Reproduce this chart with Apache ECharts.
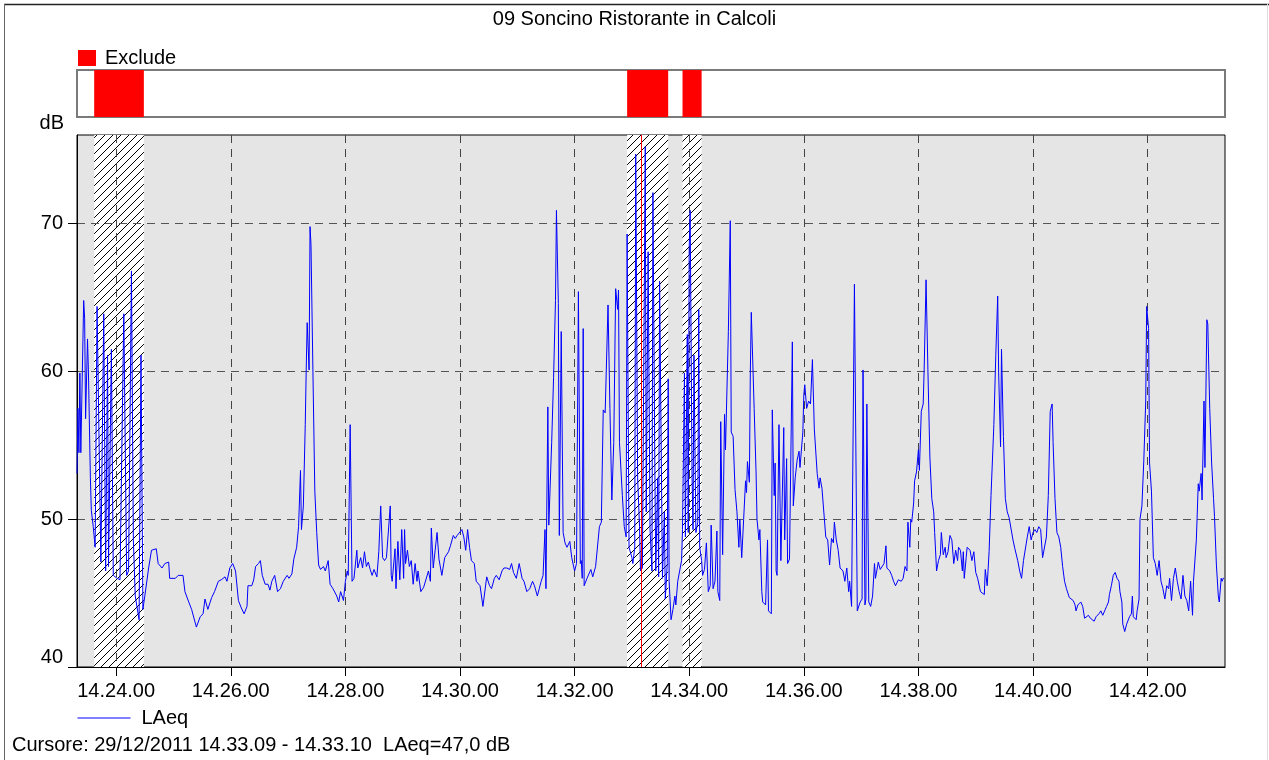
<!DOCTYPE html>
<html><head><meta charset="utf-8">
<script src="https://cdn.jsdelivr.net/npm/echarts@6/dist/echarts.min.js"></script>
<style>html,body{margin:0;padding:0;background:#fff}#c{width:1269px;height:760px}</style>
</head><body><div id="c"></div>
<script>
const TITLE = '09 Soncino Ristorante in Calcoli';
const START_SEC = 14 * 3600 + 23 * 60 + 19;   // 14.23.19 = offset 0
const END_OFFSET = 1202;                        // seconds shown
const xTickOffsets = [41, 161, 281, 401, 521, 641, 761, 881, 1001, 1121]; // 14.24.00 ... 14.42.00
const yTicks = [40, 50, 60, 70];
const excludeRanges = [[18, 70], [576, 619], [634, 654]];
const cursorOffset = 590.5;
const cursorText = 'Cursore: 29/12/2011 14.33.09 - 14.33.10  LAeq=47,0 dB';
const FONT = '"Liberation Sans", Arial, Helvetica, sans-serif';

// [seconds after 14.23.19, LAeq dB]
const samples = [
[0,53.1],[1,57.5],[2,54.5],[3,59.9],[4,54.5],[7,64.8],[8,63.6],[9,56.8],[11,62.2],[12,59.9],[14,52.8],[15,50.6],[17,49.5],[19,48.1],
[21,64.4],[25,47.1],[28,63.9],[30,46.5],[32,61.1],[33,46.8],[35,56.4],[36,61.5],[38,46.2],[42,46.0],[45,45.9],[47,45.8],[49,63.9],
[52,46.2],[54,46.5],[57,66.8],[59,48.6],[61,44.8],[65,43.2],[67,61.1],[69,43.9],[71,44.8],[75,46.7],[78,47.9],[83,48.0],[85,47.0],
[89,46.7],[92,47.0],[96,47.1],[97,46.0],[103,46.0],[106,46.2],[111,46.2],[113,45.1],[117,44.4],[120,43.9],[125,42.7],[129,43.4],
[132,43.6],[134,44.6],[137,43.9],[141,44.7],[144,45.1],[148,45.8],[151,45.9],[155,46.1],[157,45.8],[160,46.7],[163,47.0],[166,46.5],
[169,44.5],[172,44.0],[175,43.6],[178,44.1],[179,45.5],[183,45.5],[185,45.9],[187,46.8],[190,47.0],[192,47.2],[194,46.2],[197,45.6],
[200,45.6],[202,45.2],[204,45.8],[207,46.2],[210,45.1],[213,45.3],[216,45.8],[220,46.2],[222,46.0],[225,46.3],[227,47.3],[230,48.1],
[232,49.5],[234,53.3],[235,49.3],[237,50.9],[239,56.4],[240,60.1],[241,63.3],[243,60.1],[244,69.8],[245,68.6],[247,60.1],[249,51.9],
[251,49.1],[253,46.9],[255,46.6],[258,46.8],[260,46.5],[263,47.2],[265,45.6],[268,45.3],[272,44.8],[274,44.4],[276,45.1],[279,44.5],
[281,45.8],[283,46.5],[284,46.2],[286,56.4],[288,45.8],[290,46.0],[293,47.9],[294,46.7],[297,47.4],[299,46.7],[301,47.8],[303,46.8],
[305,47.1],[307,46.6],[309,46.2],[311,46.6],[314,46.1],[316,47.8],[318,50.9],[320,47.4],[322,47.2],[324,47.4],[326,47.4],[328,50.9],
[329,46.2],[330,45.8],[333,48.0],[334,45.3],[336,48.5],[338,45.9],[340,49.3],[342,46.0],[343,49.3],[344,47.0],[346,47.9],[348,46.8],
[350,47.2],[352,45.6],[354,47.0],[356,45.8],[357,46.5],[360,45.1],[363,45.4],[365,45.5],[368,46.5],[370,45.8],[371,49.4],[373,46.7],
[375,47.9],[377,49.1],[379,47.3],[382,46.2],[385,47.4],[389,47.8],[391,48.2],[394,48.9],[396,48.7],[398,48.9],[400,48.8],[403,49.3],
[405,48.8],[407,47.9],[409,49.3],[411,48.1],[413,47.2],[416,47.0],[418,45.8],[422,45.5],[425,44.1],[426,44.0],[429,46.1],[432,45.5],
[434,45.3],[437,46.0],[439,46.2],[442,45.9],[445,46.5],[447,46.7],[450,46.7],[453,46.6],[455,47.0],[457,46.4],[460,46.0],[463,47.0],
[466,46.0],[468,45.8],[471,45.1],[474,45.3],[477,45.8],[479,45.5],[482,44.8],[484,45.3],[486,45.8],[488,46.2],[490,49.3],[491,45.3],
[493,57.6],[494,49.6],[497,55.2],[499,59.6],[501,64.8],[502,70.9],[504,64.6],[505,48.9],[507,62.7],[509,49.1],[511,48.4],[513,48.1],
[516,48.5],[518,47.4],[521,46.5],[523,47.0],[525,65.4],[527,47.0],[528,47.2],[529,46.0],[530,62.9],[531,45.5],[534,46.0],[536,46.1],
[538,46.6],[540,46.1],[543,46.8],[545,46.7],[547,49.5],[549,49.8],[551,57.4],[553,57.2],[556,64.5],[558,57.5],[560,51.3],[562,55.2],
[564,65.6],[566,64.2],[567,65.5],[568,55.2],[571,51.6],[573,49.5],[575,48.8],[576,69.3],[578,48.1],[581,47.4],[582,47.0],[584,48.1],
[585,74.7],[587,52.8],[589,49.5],[590,46.5],[592,46.7],[595,75.2],[596,50.5],[598,68.1],[600,49.3],[602,46.5],[603,72.1],[605,53.8],
[606,46.5],[608,52.8],[609,46.1],[610,66.1],[613,46.0],[615,50.5],[616,44.6],[618,47.0],[619,59.5],[620,45.8],[622,43.2],[624,43.9],
[626,44.8],[627,44.2],[629,45.8],[631,46.5],[633,47.2],[634,49.3],[636,59.9],[637,48.8],[639,62.5],[640,49.1],[641,68.4],[642,70.9],
[644,52.8],[645,49.3],[646,61.1],[648,49.1],[650,49.8],[651,64.2],[652,48.1],[654,47.2],[655,46.2],[657,46.6],[659,48.4],[661,45.1],
[663,45.5],[664,49.6],[666,45.3],[668,45.8],[670,49.2],[671,45.1],[673,44.5],[674,56.6],[676,47.6],[678,57.1],[679,54.7],[682,62.7],
[684,70.2],[685,55.9],[687,55.6],[689,52.0],[690,51.9],[691,50.5],[693,48.1],[694,50.0],[696,47.4],[698,50.0],[700,52.6],[701,51.8],
[702,53.9],[704,52.5],[705,59.9],[706,64.0],[709,57.5],[711,53.2],[712,50.0],[714,48.6],[715,49.3],[717,45.1],[718,44.4],[721,44.2],
[723,48.6],[724,43.8],[727,43.6],[728,57.4],[730,51.6],[731,53.8],[732,46.5],[733,46.2],[735,56.4],[737,47.2],[739,47.1],[740,56.2],
[741,48.6],[743,54.1],[744,47.0],[746,47.3],[749,62.0],[750,50.9],[752,52.8],[754,54.0],[756,54.6],[757,53.5],[760,55.9],[761,58.4],
[762,59.1],[764,57.5],[766,58.0],[768,57.8],[770,60.8],[772,56.1],[775,53.1],[777,52.1],[778,52.8],[780,52.1],[782,52.1],[784,48.8],
[786,48.6],[788,46.9],[790,48.7],[792,48.4],[793,49.8],[795,48.6],[797,47.9],[799,46.7],[802,46.5],[804,45.8],[806,46.7],[808,45.1],
[809,45.8],[811,44.1],[813,44.0],[814,65.9],[815,65.8],[817,43.8],[820,44.4],[822,44.6],[823,60.1],[825,44.2],[826,44.6],[827,57.8],
[829,44.4],[831,44.1],[833,44.8],[835,47.0],[836,46.0],[839,47.1],[841,46.6],[843,46.7],[845,47.0],[847,48.2],[848,46.7],[851,46.5],
[853,46.2],[855,45.8],[857,45.5],[860,45.9],[863,45.8],[865,46.0],[867,46.8],[869,46.5],[870,49.8],[872,48.1],[873,50.0],[874,49.8],
[876,51.1],[877,52.6],[879,53.2],[881,54.7],[882,53.3],[884,57.3],[886,57.8],[887,60.1],[889,66.2],[890,66.2],[891,59.9],[893,54.2],
[895,51.4],[897,50.5],[898,49.1],[900,46.5],[902,47.2],[904,47.6],[905,49.1],[907,47.6],[909,48.1],[910,47.4],[912,47.8],[914,48.9],
[916,48.6],[918,47.0],[920,47.9],[922,47.2],[923,48.1],[925,47.9],[927,46.5],[928,47.8],[929,46.0],[931,47.4],[932,48.1],[935,47.9],
[937,47.2],[939,47.8],[941,46.4],[943,46.0],[946,45.1],[948,45.2],[950,44.9],[951,46.6],[953,45.5],[955,47.8],[957,51.6],[960,56.4],
[962,61.1],[964,65.1],[965,59.9],[967,54.9],[968,61.5],[970,55.6],[972,51.4],[974,50.5],[976,50.1],[978,50.0],[980,48.6],[982,48.0],
[985,47.2],[987,46.5],[989,46.0],[991,47.2],[993,47.2],[995,48.8],[997,49.5],[999,48.6],[1001,49.1],[1003,49.3],[1005,49.1],[1007,49.5],
[1009,49.3],[1011,47.4],[1013,47.4],[1015,48.8],[1017,51.6],[1019,57.3],[1021,57.8],[1022,55.2],[1024,51.4],[1026,49.1],[1028,48.8],
[1030,48.1],[1032,46.8],[1034,45.8],[1036,45.3],[1039,44.7],[1041,44.6],[1043,44.5],[1045,44.2],[1046,43.8],[1048,44.2],[1051,44.4],
[1053,44.1],[1055,43.3],[1057,43.4],[1059,43.5],[1061,43.3],[1063,43.2],[1065,43.1],[1067,43.4],[1070,43.6],[1072,43.8],[1074,43.5],
[1076,43.8],[1078,44.1],[1080,44.4],[1081,44.9],[1083,45.5],[1085,46.2],[1087,46.4],[1089,46.0],[1091,45.8],[1092,45.1],[1094,44.4],
[1095,42.9],[1097,42.4],[1099,42.9],[1102,43.4],[1104,43.6],[1105,44.8],[1106,43.4],[1109,43.2],[1110,43.8],[1112,44.6],[1113,50.0],
[1115,50.9],[1117,54.0],[1119,58.0],[1120,64.4],[1122,62.9],[1123,53.8],[1125,51.9],[1127,47.4],[1129,47.0],[1131,46.2],[1133,47.2],
[1135,45.8],[1137,45.3],[1139,44.6],[1141,45.5],[1143,45.3],[1144,46.0],[1146,44.5],[1148,46.0],[1150,46.7],[1152,45.8],[1154,45.1],
[1156,44.6],[1158,46.2],[1160,44.8],[1162,44.5],[1164,43.8],[1166,45.8],[1168,43.5],[1169,45.8],[1172,48.6],[1174,52.4],[1175,51.9],
[1177,53.1],[1178,51.3],[1180,58.0],[1181,53.5],[1183,63.5],[1184,63.2],[1186,57.5],[1188,53.8],[1190,51.4],[1191,50.2],[1193,46.9],
[1195,44.8],[1196,44.4],[1198,46.0],[1199,45.8],[1200,46.0],[1201,46.0]
];

function fmtTime(v) {
  const t = Math.round(START_SEC + v);
  const h = Math.floor(t / 3600), m = Math.floor((t % 3600) / 60), s = t % 60;
  const p = n => String(n).padStart(2, '0');
  return h + '.' + p(m) + '.' + p(s);
}
function hatchPattern() {
  const c = document.createElement('canvas');
  c.width = 8; c.height = 8;
  const g = c.getContext('2d');
  g.fillStyle = '#ffffff'; g.fillRect(0, 0, 8, 8);
  g.strokeStyle = '#000000'; g.lineWidth = 1;
  g.beginPath();
  g.moveTo(-1, 9); g.lineTo(9, -1);
  g.moveTo(-1, 1); g.lineTo(1, -1);
  g.moveTo(7, 9); g.lineTo(9, 7);
  g.stroke();
  return c;
}
const areas = excludeRanges.map(r => [{ xAxis: r[0] }, { xAxis: r[1] }]);
const txt = { fontFamily: FONT, fontSize: 20, color: '#000' };

const chart = echarts.init(document.getElementById('c'), null, { renderer: 'canvas' });
chart.setOption({
  animation: false,
  backgroundColor: '#ffffff',
  title: { text: TITLE, left: 'center', top: 4, textStyle: Object.assign({}, txt, { fontWeight: 'normal' }) },
  legend: [
    { data: ['Exclude'], left: 78, top: 48, padding: 0, icon: 'rect', itemWidth: 18, itemHeight: 16, selectedMode: false,
      textStyle: Object.assign({}, txt, { padding: [0, 0, 0, 4] }) },
    { data: ['LAeq'], left: 77, top: 708, padding: 0, itemWidth: 53, itemHeight: 2, selectedMode: false,
      itemStyle: { color: 'rgba(0,0,0,0)', borderWidth: 0, borderColor: 'rgba(0,0,0,0)' },
      lineStyle: { color: '#0000ff', width: 1 },
      textStyle: Object.assign({}, txt, { padding: [0, 0, 0, 6] }) }
  ],
  grid: [
    { left: 77, right: 44, top: 135, bottom: 93, show: true, backgroundColor: '#e5e5e5', borderColor: '#000', borderWidth: 1 },
    { left: 77, right: 44, top: 70, height: 47, show: true, backgroundColor: '#ffffff', borderColor: '#7a7a7a', borderWidth: 2 }
  ],
  xAxis: [
    { gridIndex: 0, type: 'value', min: 0, max: END_OFFSET, z: 2,
      axisLine: { show: true, onZero: false, lineStyle: { color: '#000', width: 1 } },
      axisTick: { show: true, length: 9, customValues: xTickOffsets, lineStyle: { color: '#000' } },
      axisLabel: Object.assign({ customValues: xTickOffsets, formatter: fmtTime, margin: 14 }, txt),
      splitLine: { show: true, lineStyle: { color: '#444', width: 1, type: [8, 6] } } },
    { gridIndex: 1, type: 'value', min: 0, max: END_OFFSET, show: false }
  ],
  yAxis: [
    { gridIndex: 0, type: 'value', min: 40, max: 76, interval: 10, z: 2,
      name: 'dB', nameLocation: 'end', nameGap: 12,
      nameTextStyle: Object.assign({ align: 'right', verticalAlign: 'middle', padding: [0, 13, 0, 0] }, txt),
      axisLine: { show: true, onZero: false, lineStyle: { color: '#000', width: 1 } },
      axisTick: { show: true, length: 9, customValues: yTicks, lineStyle: { color: '#000' } },
      axisLabel: Object.assign({ customValues: yTicks, margin: 14,
        formatter: v => (v === 40 ? '{lo|40}' : String(v)),
        rich: { lo: { fontFamily: FONT, fontSize: 20, color: '#000', padding: [0, 0, 20, 0] } } }, txt),
      splitLine: { show: true, lineStyle: { color: '#555', width: 1, type: [8, 6] } } },
    { gridIndex: 1, type: 'value', min: 0, max: 1, show: false }
  ],
  series: [
    { type: 'line', name: 'Exclude', xAxisIndex: 1, yAxisIndex: 1, data: [], itemStyle: { color: '#ff0000' },
      markArea: { silent: true, itemStyle: { color: '#ff0000' }, data: areas } },
    { type: 'line', name: 'hatch', xAxisIndex: 0, yAxisIndex: 0, data: [], z: 1,
      markArea: { silent: true, itemStyle: { color: { image: hatchPattern(), repeat: 'repeat' } }, data: areas } },
    { type: 'line', name: 'LAeq', xAxisIndex: 0, yAxisIndex: 0, data: samples, z: 3,
      symbol: 'none', showSymbol: false,
      lineStyle: { color: '#0000ff', width: 1 }, itemStyle: { color: '#0000ff' },
      markLine: { silent: true, symbol: ['none', 'none'], label: { show: false },
        lineStyle: { color: '#ff0000', type: 'solid', width: 1 }, data: [{ xAxis: cursorOffset }] } }
  ],
  graphic: [
    { type: 'line', shape: { x1: 4, y1: 4.5, x2: 1269, y2: 4.5 }, style: { stroke: '#222', lineWidth: 1.5 }, silent: true },
    { type: 'line', shape: { x1: 4.5, y1: 4, x2: 4.5, y2: 760 }, style: { stroke: '#666', lineWidth: 1 }, silent: true },
    { type: 'line', shape: { x1: 1267.5, y1: 4, x2: 1267.5, y2: 760 }, style: { stroke: '#ddd', lineWidth: 1 }, silent: true },
    { type: 'text', left: 12, top: 735, style: { text: cursorText, font: '20px ' + FONT, fill: '#000' } }
  ]
});
</script>
</body></html>
